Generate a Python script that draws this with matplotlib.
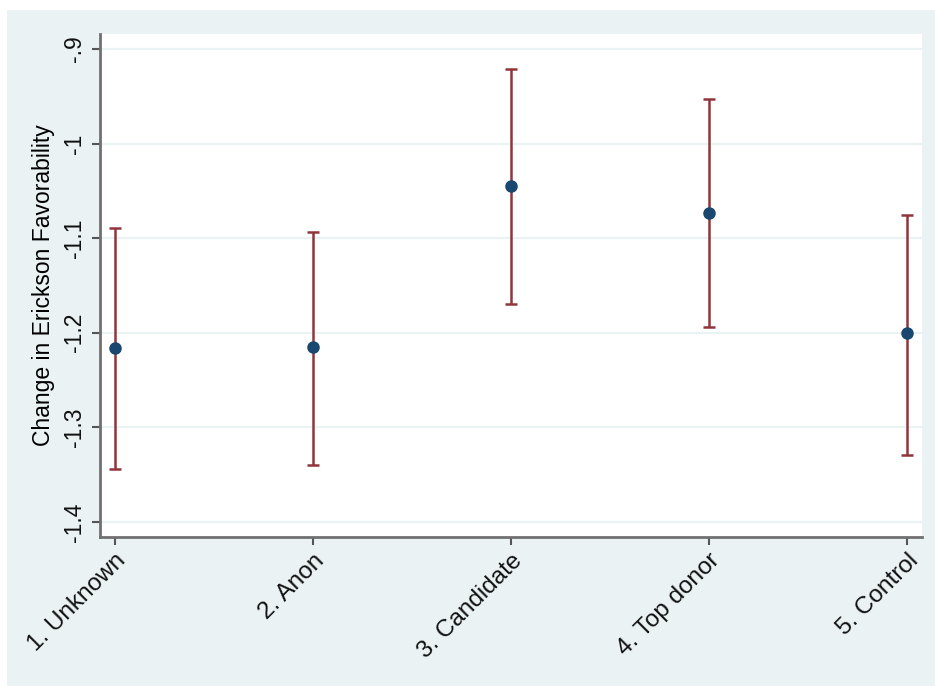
import numpy as np
import matplotlib.pyplot as plt
from matplotlib.patches import Rectangle

plt.rcParams['font.family'] = ['Liberation Sans', 'DejaVu Sans']

# treatment groups and estimated change with 95% CI
groups = ["1. Unknown", "2. Anon", "3. Candidate", "4. Top donor", "5. Control"]
estimate = [-1.216, -1.215, -1.045, -1.073, -1.200]
ci_low = [-1.344, -1.340, -1.170, -1.194, -1.329]
ci_high = [-1.089, -1.093, -0.921, -0.953, -1.076]
yticks = [-0.9, -1.0, -1.1, -1.2, -1.3, -1.4]
ytick_labels = ["-.9", "-1", "-1.1", "-1.2", "-1.3", "-1.4"]

navy = '#1a476f'
maroon = '#90353b'
bg = '#eaf2f3'
W, H = 935, 687

fig = plt.figure(figsize=(W / 100, H / 100), dpi=100, facecolor='white')
# light background panel behind the plot region
fig.add_artist(Rectangle((7 / W, 1 / H), (W - 7) / W, (H - 11) / H,
                         transform=fig.transFigure, facecolor=bg,
                         edgecolor='none', zorder=-10))

ax = fig.add_axes([100 / W, (H - 537) / H, 822 / W, 503 / H])
ax.set_facecolor('white')

x = np.arange(1, len(groups) + 1)
est = np.array(estimate)
yerr = [est - np.array(ci_low), np.array(ci_high) - est]
ax.errorbar(x, est, yerr=yerr, fmt='none', ecolor=maroon, elinewidth=1.8,
            capsize=4.5, capthick=1.8, zorder=3)
ax.plot(x, est, 'o', color=navy, markersize=8, zorder=4)

ax.set_xlim(1 - 15 / 198, 5 + 15 / 198)
ax.set_ylim(-1.4 - 15 / 946, -0.9 + 15 / 946)

ax.set_yticks(yticks)
ax.set_yticklabels(ytick_labels, rotation=90, va='center', fontsize=16.5)
ax.set_xticks(x)
ax.set_xticklabels(groups, rotation=45, ha='right', rotation_mode='anchor',
                   fontsize=17.5)
ax.tick_params(axis='both', direction='out', length=6, width=1.5,
               color='#555555', labelcolor='#111111')
ax.tick_params(axis='y', pad=4)
ax.tick_params(axis='x', pad=3)

ax.yaxis.grid(True, color=bg, linewidth=1.6, zorder=1)
ax.set_axisbelow(True)

for side in ['top', 'right']:
    ax.spines[side].set_visible(False)
for side in ['left', 'bottom']:
    ax.spines[side].set_color('#707070')
    ax.spines[side].set_linewidth(2)

ax.set_ylabel("Change in Erickson Favorability", fontsize=16.5, labelpad=6)

fig.savefig('out.png', dpi=100, facecolor='white')
